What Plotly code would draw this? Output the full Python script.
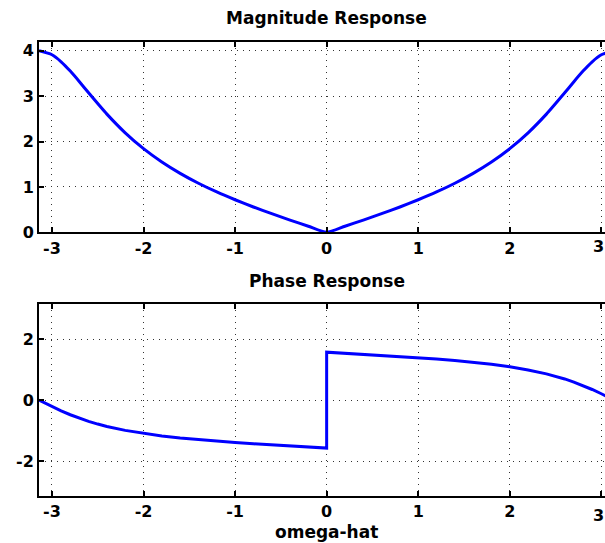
import plotly.graph_objects as go

# ---- data ----
omega = [-3.1416, -3.0, -2.9, -2.8, -2.7, -2.6, -2.4, -2.2, -2.0, -1.8, -1.6, -1.4, -1.2,
         -1.0, -0.8, -0.6, -0.4, -0.2, 0.0, 0.2, 0.4, 0.6, 0.8, 1.0, 1.2, 1.4, 1.6, 1.8,
         2.0, 2.2, 2.4, 2.6, 2.7, 2.8, 2.9, 3.0, 3.1416]
magnitude = [4.000, 3.913, 3.758, 3.552, 3.318, 3.074, 2.604, 2.192, 1.843, 1.549, 1.299,
             1.081, 0.889, 0.717, 0.558, 0.410, 0.270, 0.134, 0.000, 0.134, 0.270, 0.410,
             0.558, 0.717, 0.889, 1.081, 1.299, 1.549, 1.843, 2.192, 2.604, 3.074, 3.318,
             3.552, 3.758, 3.913, 4.000]

phase_omega = [-3.1416, -3.0, -2.9, -2.8, -2.7, -2.6, -2.5, -2.4, -2.2, -2.0, -1.8, -1.6,
               -1.4, -1.2, -1.0, -0.8, -0.6, -0.4, -0.2, 0.0, 0.0, 0.2, 0.4, 0.6, 0.8, 1.0,
               1.2, 1.4, 1.6, 1.8, 2.0, 2.2, 2.4, 2.5, 2.6, 2.7, 2.8, 2.9, 3.0, 3.1416]
phase = [0.000, -0.210, -0.349, -0.478, -0.593, -0.695, -0.784, -0.862, -0.991, -1.093,
         -1.173, -1.240, -1.298, -1.347, -1.391, -1.431, -1.468, -1.503, -1.537, -1.571,
         1.571, 1.537, 1.503, 1.468, 1.431, 1.391, 1.347, 1.298, 1.240, 1.173, 1.093,
         0.991, 0.862, 0.784, 0.695, 0.593, 0.478, 0.349, 0.210, 0.000]

x_ticks = [-3, -2, -1, 0, 1, 2, 3]
x_tick_labels = ["-3", "-2", "-1", "0", "1", "2", "3"]
mag_ticks = [0, 1, 2, 3, 4]
mag_tick_labels = ["0", "1", "2", "3", "4"]
phase_ticks = [-2, 0, 2]
phase_tick_labels = ["-2", "0", "2"]

titles = ["Magnitude Response", "Phase Response"]
x_label = "omega-hat"

# ---- figure ----
W, H = 605, 543
FONT = "DejaVu Sans, Liberation Sans, Arial"

fig = go.Figure()
fig.add_trace(go.Scatter(x=omega, y=magnitude, mode="lines",
                         line=dict(color="#0000FF", width=3, shape="spline", smoothing=0.6),
                         xaxis="x", yaxis="y", showlegend=False, hoverinfo="skip"))
fig.add_trace(go.Scatter(x=phase_omega, y=phase, mode="lines",
                         line=dict(color="#0000FF", width=3), xaxis="x2", yaxis="y2",
                         showlegend=False, hoverinfo="skip"))


def px_to_paper(py):
    return (H - py) / H


top_dom = [px_to_paper(232.3), px_to_paper(41.7)]
bot_dom = [px_to_paper(496.0), px_to_paper(304.3)]

tickfont = dict(family=FONT, size=16, color="black", weight="bold")
common_x = dict(range=[-3.1416, 3.04], tickmode="array", tickvals=x_ticks,
                ticktext=x_tick_labels,
                ticks="inside", ticklen=5, tickwidth=2, tickcolor="black",
                showline=True, linewidth=2, linecolor="black", mirror="ticks",
                showgrid=True, gridcolor="#333333", gridwidth=1, griddash="1px,5px",
                zeroline=False, tickfont=tickfont, automargin=False, fixedrange=True)
common_y = dict(ticks="inside", ticklen=5, tickwidth=2, tickcolor="black",
                showline=True, linewidth=2, linecolor="black", mirror=False,
                showgrid=True, gridcolor="#333333", gridwidth=1, griddash="1px,5px",
                zeroline=False, tickfont=tickfont, automargin=False, fixedrange=True)

fig.update_layout(
    width=W, height=H, autosize=False,
    margin=dict(l=39, r=0, t=0, b=0, pad=0),
    paper_bgcolor="white", plot_bgcolor="white",
    xaxis=dict(domain=[0, 1], anchor="y", **common_x),
    yaxis=dict(domain=top_dom, anchor="x", range=[0, 4.2], tickmode="array",
               tickvals=mag_ticks, ticktext=mag_tick_labels, **common_y),
    xaxis2=dict(domain=[0, 1], anchor="y2", **common_x),
    yaxis2=dict(domain=bot_dom, anchor="x2", range=[-3.1416, 3.1416], tickmode="array",
                tickvals=phase_ticks, ticktext=phase_tick_labels, **common_y),
)

# the last x tick label ("3") sits at the right edge; plotly hides it, so draw it
for xa, py in (("x", 247), ("x2", 515)):
    fig.add_annotation(text=x_tick_labels[-1], xref=xa, x=x_ticks[-1], yref="paper",
                       y=px_to_paper(py), showarrow=False, font=tickfont,
                       xanchor="center", yanchor="middle", xshift=-3)

title_font = dict(family=FONT, size=17, color="black", weight="bold")
fig.add_annotation(text=titles[0], xref="x", x=0, yref="paper", y=px_to_paper(18),
                   showarrow=False, font=title_font, xanchor="center", yanchor="middle")
fig.add_annotation(text=titles[1], xref="x", x=0, yref="paper", y=px_to_paper(281),
                   showarrow=False, font=title_font, xanchor="center", yanchor="middle")
fig.add_annotation(text=x_label, xref="x", x=0, yref="paper", y=px_to_paper(532),
                   showarrow=False, font=title_font, xanchor="center", yanchor="middle")

fig.write_html("out.html", config={"displayModeBar": False},
               post_script="document.body.style.margin='0px';"
                           "document.body.style.overflow='hidden';")
